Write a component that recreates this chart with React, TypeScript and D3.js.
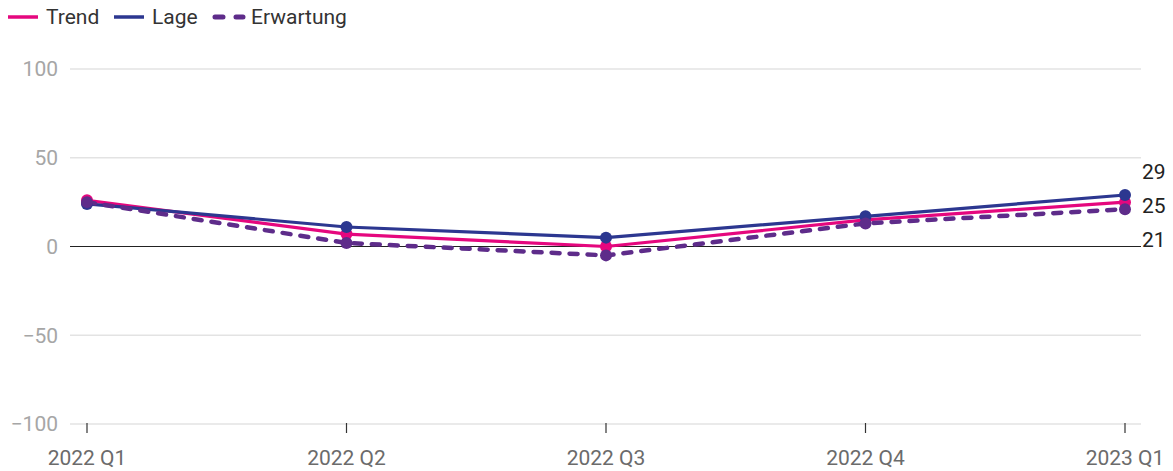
import React, { useEffect, useRef } from 'react';
import * as d3 from 'd3';

const categories = ['2022 Q1', '2022 Q2', '2022 Q3', '2022 Q4', '2023 Q1'];
const trendValues = [26, 7, 0, 15, 25];
const lageValues = [24, 11, 5, 17, 29];
const erwartungValues = [25, 2, -5, 13, 21];
const yTicks = [-100, -50, 0, 50, 100];

const seriesList = [
    { name: 'Trend', values: trendValues, color: '#e5077e', dash: null },
    { name: 'Lage', values: lageValues, color: '#2c3790', dash: null },
    { name: 'Erwartung', values: erwartungValues, color: '#5e2c8a', dash: '8,10' },
];

const width = 1173;
const height = 471;
const margin = { top: 69, right: 32, bottom: 47, left: 70 };

const App = () => {
    const ref = useRef<SVGSVGElement>(null);

    useEffect(() => {
        const svg = d3.select(ref.current);
        svg.selectAll('*').remove();
        const font = 'Roboto, sans-serif';

        const x = d3.scalePoint()
            .domain(categories)
            .range([87, 1125]);
        const y = d3.scaleLinear()
            .domain([-100, 100])
            .range([height - margin.bottom, margin.top]);

        // grid lines
        svg.append('g')
            .selectAll('line')
            .data(yTicks)
            .enter()
            .append('line')
            .attr('x1', margin.left)
            .attr('x2', width - margin.right)
            .attr('y1', (d) => y(d))
            .attr('y2', (d) => y(d))
            .attr('stroke', (d) => (d === 0 ? '#222' : '#e3e3e3'))
            .attr('stroke-width', (d) => (d === 0 ? 1.2 : 1.5));

        // y labels
        svg.append('g')
            .selectAll('text')
            .data(yTicks)
            .enter()
            .append('text')
            .attr('x', 58)
            .attr('y', (d) => y(d))
            .attr('dy', '0.35em')
            .attr('text-anchor', 'end')
            .attr('font-family', font)
            .attr('font-size', 21)
            .attr('fill', '#a6a6a6')
            .text((d) => (d < 0 ? `\u2212${-d}` : `${d}`));

        // x ticks & labels
        const xg = svg.append('g');
        xg.selectAll('line')
            .data(categories)
            .enter()
            .append('line')
            .attr('x1', (d) => x(d) as number)
            .attr('x2', (d) => x(d) as number)
            .attr('y1', y(-100) - 1)
            .attr('y2', y(-100) + 9)
            .attr('stroke', '#333')
            .attr('stroke-width', 1.2);
        xg.selectAll('text')
            .data(categories)
            .enter()
            .append('text')
            .attr('x', (d) => x(d) as number)
            .attr('y', 465)
            .attr('text-anchor', 'middle')
            .attr('font-family', font)
            .attr('font-size', 21)
            .attr('fill', '#6b6b6b')
            .text((d) => d);

        // lines and dots
        seriesList.forEach((s) => {
            const line = d3.line<number>()
                .x((_, i) => x(categories[i]) as number)
                .y((d) => y(d));
            svg.append('path')
                .datum(s.values)
                .attr('d', line)
                .attr('fill', 'none')
                .attr('stroke', s.color)
                .attr('stroke-width', s.dash ? 4.5 : 3.2)
                .attr('stroke-linecap', s.dash ? 'round' : 'butt')
                .attr('stroke-dasharray', s.dash);
        });
        seriesList.forEach((s) => {
            svg.append('g')
                .selectAll('circle')
                .data(s.values)
                .enter()
                .append('circle')
                .attr('cx', (_, i) => x(categories[i]) as number)
                .attr('cy', (d) => y(d))
                .attr('r', 6)
                .attr('fill', s.color);
        });

        // end labels, spread apart
        const last = categories.length - 1;
        const ends = seriesList
            .map((s) => s.values[last])
            .sort((a, b) => b - a);
        const meanY = d3.mean(ends, (v) => y(v)) as number;
        svg.append('g')
            .selectAll('text')
            .data(ends)
            .enter()
            .append('text')
            .attr('x', 1142)
            .attr('y', (_, i) => meanY + 4 + (i - (ends.length - 1) / 2) * 34)
            .attr('dy', '0.35em')
            .attr('font-family', font)
            .attr('font-size', 21)
            .attr('fill', '#222')
            .text((d) => d);

        // legend
        const legendX = [8, 114, 213];
        const lg = svg.append('g');
        seriesList.forEach((s, i) => {
            lg.append('line')
                .attr('x1', legendX[i] + (s.dash ? 2 : 0))
                .attr('x2', legendX[i] + 30)
                .attr('y1', 17)
                .attr('y2', 17)
                .attr('stroke', s.color)
                .attr('stroke-width', s.dash ? 5 : 3.5)
                .attr('stroke-linecap', s.dash ? 'round' : 'butt')
                .attr('stroke-dasharray', s.dash ? '8,13' : null);
            lg.append('text')
                .attr('x', legendX[i] + 38)
                .attr('y', 17)
                .attr('dy', '0.35em')
                .attr('font-family', font)
                .attr('font-size', 21)
                .attr('fill', '#333')
                .text(s.name);
        });
    }, []);

    return (
        <svg
            ref={ref}
            width={width}
            height={height}
            style={{ position: 'absolute', left: 0, top: 0, background: '#fff' }}
        />
    );
};

export default App;
